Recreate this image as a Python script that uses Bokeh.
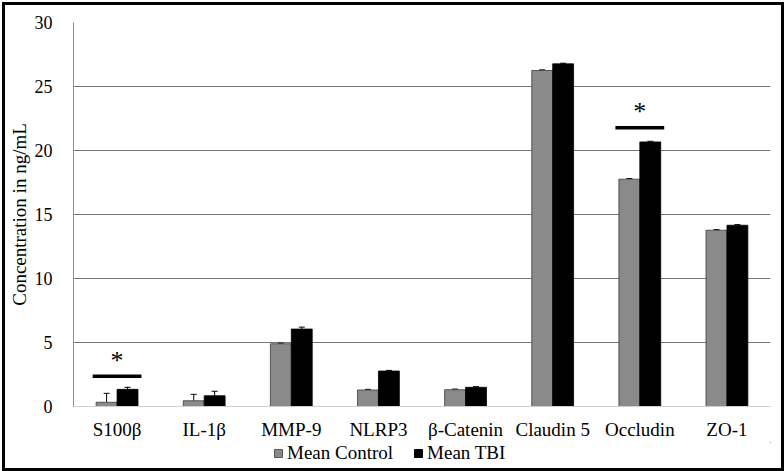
from bokeh.plotting import figure
from bokeh.layouts import column
from bokeh.models import (ColumnDataSource, FactorRange, Whisker, TeeHead, Legend, LegendItem,
                          FixedTicker, Range1d)
from bokeh.transform import dodge
from bokeh.core.properties import value
from bokeh.embed import file_html
from bokeh.resources import INLINE

categories = ["S100β", "IL-1β", "MMP-9", "NLRP3", "β-Catenin", "Claudin 5", "Occludin", "ZO-1"]
mean_control = [0.33, 0.45, 4.9, 1.29, 1.31, 26.25, 17.76, 13.77]
mean_tbi = [1.34, 0.84, 6.05, 2.77, 1.5, 26.77, 20.67, 14.16]
err_control = [0.7, 0.5, 0.05, 0.05, 0.05, 0.05, 0.05, 0.05]
err_tbi = [0.16, 0.35, 0.15, 0.05, 0.05, 0.05, 0.05, 0.05]
series_names = ["Mean Control", "Mean TBI"]
sig_categories = ["S100β", "Occludin"]
sig_line_y = [2.37, 21.77]
sig_star_y = [3.6, 23.05]

FONT = "'Liberation Serif', 'Times New Roman', serif"
GRAY = "#8a8a8a"

src = ColumnDataSource(dict(
    cat=categories, ctrl=mean_control, tbi=mean_tbi,
    ctrl_up=[m + e for m, e in zip(mean_control, err_control)],
    tbi_up=[m + e for m, e in zip(mean_tbi, err_tbi)],
))

p = figure(x_range=FactorRange(*categories), y_range=(0, 30), width=776, height=437,
           output_backend="svg", toolbar_location=None,
           min_border_left=67, min_border_right=11, min_border_top=17, min_border_bottom=36)
p.x_range.range_padding = 0
p.outline_line_color = None

w = 0.24
p.vbar(x=dodge("cat", -w / 2, range=p.x_range), top="ctrl", width=w, source=src,
       fill_color=GRAY, line_color="#3a3a3a", line_width=0.8)
p.vbar(x=dodge("cat", w / 2, range=p.x_range), top="tbi", width=w, source=src,
       fill_color="#000000", line_color="#000000", line_width=0.8)

for col_lo, col_up, off in (("ctrl", "ctrl_up", -w / 2), ("tbi", "tbi_up", w / 2)):
    wh = Whisker(base=dodge("cat", off, range=p.x_range), lower=col_lo, upper=col_up, source=src,
                 line_color="black", line_width=1,
                 upper_head=TeeHead(size=6, line_color="black", line_width=1), lower_head=None)
    p.add_layout(wh)

sig_src = ColumnDataSource(dict(cat=sig_categories, ly=sig_line_y, sy=sig_star_y))
p.segment(x0=dodge("cat", -0.28, range=p.x_range), x1=dodge("cat", 0.28, range=p.x_range),
          y0="ly", y1="ly", source=sig_src, line_color="black", line_width=3.5)
p.text(x="cat", y="sy", text=value("*"), source=sig_src, text_font=value(FONT),
       text_font_size="26px", text_align="center", text_baseline="middle", text_color="#000000")

p.ygrid.ticker = FixedTicker(ticks=[5, 10, 15, 20, 25, 30])
p.ygrid.grid_line_color = "#777777"
p.ygrid.grid_line_width = 1
p.xgrid.grid_line_color = None

p.yaxis.ticker = FixedTicker(ticks=[0, 5, 10, 15, 20, 25, 30])
p.yaxis.axis_label = "Concentration in ng/mL"
p.yaxis.axis_label_text_font = FONT
p.yaxis.axis_label_text_font_style = "normal"
p.yaxis.axis_label_text_font_size = "19px"
p.yaxis.axis_label_text_color = "black"
p.yaxis.axis_label_standoff = 2
p.yaxis.major_label_text_font = FONT
p.yaxis.major_label_text_font_size = "18px"
p.yaxis.major_label_text_color = "black"
p.yaxis.major_label_standoff = 15
p.yaxis.axis_line_color = "#8c8c8c"
p.yaxis.major_tick_line_color = None
p.yaxis.minor_tick_line_color = None

p.xaxis.major_label_text_font = FONT
p.xaxis.major_label_text_font_size = "19px"
p.xaxis.major_label_text_color = "black"
p.xaxis.major_label_standoff = 6
p.xaxis.axis_line_color = "#d0d0d0"
p.xaxis.major_tick_line_color = None
p.xaxis.minor_tick_line_color = None

# legend strip below the chart (its renderers sit outside the visible range)
q = figure(width=776, height=26, output_backend="svg", toolbar_location=None,
           x_axis_type=None, y_axis_type=None, min_border=0,
           x_range=Range1d(0, 1), y_range=Range1d(0, 1))
q.outline_line_color = None
hidden = ColumnDataSource(dict(x=[50], top=[60], bottom=[50]))
lr_ctrl = q.vbar(x="x", top="top", bottom="bottom", width=1, source=hidden,
                 fill_color=GRAY, line_color="#3a3a3a", line_width=0.8)
lr_tbi = q.vbar(x="x", top="top", bottom="bottom", width=1, source=hidden,
                fill_color="#000000", line_color="#000000")
legend = Legend(items=[LegendItem(label=series_names[0], renderers=[lr_ctrl]),
                       LegendItem(label=series_names[1], renderers=[lr_tbi])],
                orientation="horizontal", location=(200, 4),
                label_text_font=FONT, label_text_font_size="19px", label_text_color="black",
                glyph_width=10, glyph_height=10, label_standoff=4, spacing=20,
                label_height=22,
                padding=0, margin=0, border_line_color=None, background_fill_alpha=0)
q.add_layout(legend, "center")

layout = column(p, q, spacing=0)
layout.styles = {"border": "3px solid black", "margin-left": "2px", "margin-top": "2px"}

open("out.html", "w").write(file_html(layout, INLINE))
